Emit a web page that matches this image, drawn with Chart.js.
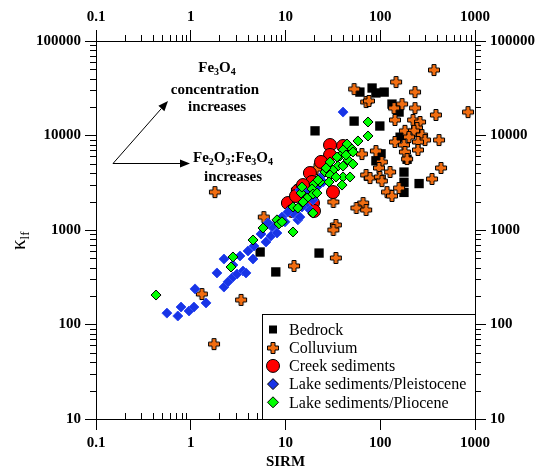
<!DOCTYPE html>
<html>
<head>
<meta charset="utf-8">
<title>SIRM vs klf</title>
<script src="https://cdn.jsdelivr.net/npm/chart.js@4.4.0/dist/chart.umd.min.js"></script>
<style>
  body { margin: 0; background: #fff; }
  canvas { display: block; }
</style>
</head>
<body>
<canvas id="myChart" width="539" height="471"></canvas>
<script>
// Series names, same order as the legend
const seriesLabels = ['Bedrock', 'Colluvium', 'Creek sediments', 'Lake sediments/Pleistocene', 'Lake sediments/Pliocene'];

// Bedrock samples (SIRM, klf)
const bedrockSirm = [61, 82, 90, 110, 133, 158, 53, 99, 20.5, 162, 102, 90, 192, 178, 178, 257, 178, 5.4, 7.9, 22.6];
const bedrockKlf = [28800, 31800, 28200, 28800, 21500, 17700, 14200, 12600, 11200, 9600, 6400, 5400, 5600, 4100, 3200, 3100, 2500, 585, 360, 570];

// Colluvium samples
const colluviumSirm = [369, 147, 53, 233, 71, 76, 170, 140, 233, 844, 387, 143, 222, 263, 244, 182, 227, 276, 201, 297,
  417, 143, 250, 178, 250, 182, 64, 90, 192, 104, 438, 97, 127, 71, 78, 99, 104, 352, 118, 158,
  133, 32, 66, 56, 71, 21, 13.2, 34, 32, 5.9, 34, 1.8, 12.3, 1.31, 3.4, 1.76];
const colluviumKlf = [49300, 36800, 31000, 28800, 22600, 23200, 21500, 19500, 19500, 17700, 16500, 14600, 14600, 13900, 12000, 11200, 11200, 10100, 9640, 8960,
  8960, 8540, 8540, 7930, 7030, 6690, 6370, 6850, 5640, 5250, 4530, 4530, 4110, 3820, 3550, 3640, 3300, 3470, 2520, 2780,
  2290, 1980, 1930, 1710, 1630, 4420, 2650, 1130, 1000, 1370, 506, 2520, 416, 210, 182, 62];

// Creek sediment samples
const creekSirm = [29.5, 40.5, 29.5, 23.7, 18.1, 19.0, 13.5, 10.6, 31.7, 16.9, 19.5, 20.0, 11.7, 12.9, 15.3];
const creekKlf = [7930, 7740, 6220, 5250, 4010, 3220, 2590, 1930, 2520, 2240, 1930, 1590, 1590, 2290, 2990];

// Lake sediments / Pleistocene
const pleistoSirm = [0.56, 0.73, 0.79, 0.96, 1.08, 1.45, 1.11, 2.24, 1.89, 2.79, 3.08, 3.56, 3.83, 2.24, 2.79, 3.31, 4.02, 4.54, 4.65, 6.22,
  7.03, 5.51, 8.13, 7.21, 6.53, 8.34, 9.18, 13.5, 40.5, 14.2, 16.9, 19.5, 18.1, 14.2, 12.0, 21.5, 24.9, 20.5, 16.1, 10.6,
  14.9, 2.47, 9.88, 23.1];
const pleistoKlf = [132, 123, 153, 139, 153, 169, 238, 249, 351, 318, 342, 368, 351, 493, 426, 531, 600, 493, 677, 746,
  865, 907, 929, 1080, 1190, 1220, 1370, 1280, 17700, 2650, 2460, 2080, 1630, 1370, 1510, 2850, 3220, 2350, 1840, 1550,
  1750, 282, 1220, 3550];

// Lake sediments / Pliocene
const plioSirm = [74.3, 74.3, 58.2, 44.6, 50.3, 40.5, 45.7, 37.6, 51.5, 29.5, 35.8, 31.7, 40.5, 48.0, 26.1, 23.1, 29.5, 28.8, 39.5, 20.0,
  19.0, 14.6, 16.9, 19.5, 12.0, 13.5, 8.13, 8.54, 12.0, 5.79, 4.54, 2.79, 2.66, 0.43, 19.5, 14.9, 21.5, 26.8, 34.1, 22.0,
  15.3, 9.18, 51.5, 40.5, 35.0, 43.5];
const plioKlf = [13900, 9880, 8750, 8130, 7200, 7030, 5510, 6070, 4990, 5250, 4750, 4310, 3640, 3640, 4110, 3220, 3820, 3220, 2990, 3070,
  2720, 2460, 2180, 2400, 1750, 1710, 1280, 1160, 953, 1050, 784, 518, 406, 205, 1510, 2850, 2460, 4530, 3640, 3380,
  1980, 1220, 6690, 4750, 5920, 6220];

// Axis ticks
const xTicks = [0.1, 1, 10, 100, 1000];
const yTicks = [10, 100, 1000, 10000, 100000];

const serif = "'Liberation Serif', 'Times New Roman', serif"; // Times-like font
const ctx = document.getElementById('myChart').getContext('2d');

// Turn two arrays into {x, y} points
function toPoints(xs, ys) {
  return xs.map((x, i) => ({ x: x, y: ys[i] }));
}

// Orange plus sign with black outline, Chart.js draws it as an image
function crossMarker(fill) {
  const c = document.createElement('canvas');
  c.width = 14; c.height = 14;
  const g = c.getContext('2d');
  const a = 5, b = 9, lo = 1.5, hi = 12.5; // arm edges and tips
  g.beginPath();
  g.moveTo(a, lo); g.lineTo(b, lo); g.lineTo(b, a); g.lineTo(hi, a); g.lineTo(hi, b); g.lineTo(b, b);
  g.lineTo(b, hi); g.lineTo(a, hi); g.lineTo(a, b); g.lineTo(lo, b); g.lineTo(lo, a); g.lineTo(a, a);
  g.closePath();
  g.fillStyle = fill;
  g.fill();
  g.strokeStyle = '#000';
  g.lineWidth = 1;
  g.stroke();
  return c;
}
const crossImg = crossMarker('#f26d10');

// Minor ticks: top/left/right point outward, bottom points inward
const minorTicks = {
  id: 'minorTicks',
  afterDraw(chart) {
    const c = chart.ctx, a = chart.chartArea;
    const sx = chart.scales.x, sy = chart.scales.y;
    c.save();
    c.strokeStyle = '#000';
    c.lineWidth = 1;
    c.beginPath();
    for (let k = -1; k < 3; k++) {
      for (let m = 2; m < 10; m++) {
        const px = Math.round(sx.getPixelForValue(m * Math.pow(10, k))) + 0.5;
        c.moveTo(px, a.bottom); c.lineTo(px, a.bottom - 6);
        c.moveTo(px, a.top); c.lineTo(px, a.top - 6);
      }
    }
    for (let k = 1; k < 5; k++) {
      for (let m = 2; m < 10; m++) {
        const py = Math.round(sy.getPixelForValue(m * Math.pow(10, k))) + 0.5;
        c.moveTo(a.left, py); c.lineTo(a.left - 6, py);
        c.moveTo(a.right, py); c.lineTo(a.right + 6, py);
      }
    }
    c.stroke();
    c.restore();
  }
};

// Draw text with subscript parts, centred on cx, baseline at y
function drawRich(c, parts, cx, y) {
  const big = 'bold 15px ' + serif, small = 'bold 10px ' + serif;
  let w = 0;
  parts.forEach(p => { c.font = p[1] ? small : big; w += c.measureText(p[0]).width; });
  let x = cx - w / 2;
  parts.forEach(p => {
    c.font = p[1] ? small : big;
    c.fillText(p[0], x, p[1] ? y + 3 : y);
    x += c.measureText(p[0]).width;
  });
}

// Arrow from (x0,y0) to tip (x1,y1)
function drawArrow(c, x0, y0, x1, y1) {
  const ang = Math.atan2(y1 - y0, x1 - x0);
  const len = 10, half = 4;
  const bx = x1 - len * Math.cos(ang), by = y1 - len * Math.sin(ang);
  c.beginPath();
  c.moveTo(x0, y0); c.lineTo(bx, by);
  c.stroke();
  c.beginPath();
  c.moveTo(x1, y1);
  c.lineTo(bx + half * Math.sin(ang), by - half * Math.cos(ang));
  c.lineTo(bx - half * Math.sin(ang), by + half * Math.cos(ang));
  c.closePath();
  c.fill();
}

// Notes, y-axis title and legend box
const extras = {
  id: 'extras',
  afterDraw(chart) {
    const c = chart.ctx, a = chart.chartArea;
    c.save();
    c.fillStyle = '#000';
    c.strokeStyle = '#000';
    c.lineWidth = 1;
    c.textAlign = 'left';
    c.textBaseline = 'alphabetic';

    // arrows and their notes
    drawArrow(c, 113, 163.5, 168, 101);
    drawArrow(c, 113, 163.5, 190, 163.5);
    drawRich(c, [['Fe', 0], ['3', 1], ['O', 0], ['4', 1]], 217, 72);
    drawRich(c, [['concentration', 0]], 215, 94);
    drawRich(c, [['increases', 0]], 217, 111);
    drawRich(c, [['Fe', 0], ['2', 1], ['O', 0], ['3', 1], [':Fe', 0], ['3', 1], ['O', 0], ['4', 1]], 233, 162);
    drawRich(c, [['increases', 0]], 233, 181);

    // y title: kappa with subscript lf, rotated
    c.translate(25, 241);
    c.rotate(-Math.PI / 2);
    c.font = '21px ' + serif;
    c.fillText('\u03ba', -9, 0);
    const kw = c.measureText('\u03ba').width;
    c.font = '13px ' + serif;
    c.fillText('lf', -9 + kw, 4);
    c.setTransform(1, 0, 0, 1, 0, 0);

    // legend box in the lower right corner of the plot
    const left = a.right - 213, top = a.bottom - 105;
    c.fillStyle = '#fff';
    c.fillRect(left, top, a.right - left, a.bottom - top);
    c.strokeRect(Math.round(left) + 0.5, Math.round(top) + 0.5, a.right - left, a.bottom - top);
    c.font = '16px ' + serif;
    c.textBaseline = 'middle';
    chart.data.datasets.forEach((ds, i) => {
      const y = top + 15.5 + i * 18.2;
      const x = left + 11;
      c.fillStyle = ds.backgroundColor;
      c.strokeStyle = '#000';
      c.lineWidth = 1;
      const r = ds.legendRadius;
      if (ds.pointStyle === 'rect') {
        c.fillRect(x - 4, y - 4, 8, 8);
      } else if (ds.pointStyle === 'circle') {
        c.beginPath(); c.arc(x, y, r, 0, Math.PI * 2); c.fill(); c.stroke();
      } else if (ds.pointStyle === 'rectRot') {
        c.beginPath(); c.moveTo(x, y - r); c.lineTo(x + r, y); c.lineTo(x, y + r); c.lineTo(x - r, y); c.closePath();
        c.fill(); c.stroke();
      } else {
        c.drawImage(ds.pointStyle, Math.round(x - 7), Math.round(y - 7));
      }
      c.fillStyle = '#000';
      c.fillText(ds.label, left + 27, y + 1);
    });
    c.restore();
  }
};

// Shared axis pieces
const tickFont = { family: serif, size: 15, weight: 'bold' };
function logAxis(position, min, max, ticks, size) {
  const horizontal = position === 'top' || position === 'bottom';
  return {
    type: 'logarithmic',
    position: position,
    min: min,
    max: max,
    afterBuildTicks: s => { s.ticks = ticks.map(v => ({ value: v })); },
    afterFit: s => { if (horizontal) s.height = size; else s.width = size; },
    ticks: { font: tickFont, color: '#000', padding: 4, maxRotation: 0, autoSkip: false, callback: v => String(v) },
    grid: { drawOnChartArea: false, drawTicks: true, tickLength: 11, color: '#000', lineWidth: 1 },
    border: { display: true, color: '#000', width: 1 }
  };
}

const xBottom = logAxis('bottom', 0.1, 1000, xTicks, 52);
xBottom.title = { display: true, text: 'SIRM', color: '#000', font: tickFont, padding: { top: 0, bottom: 0 } };
const xTop = logAxis('top', 0.1, 1000, xTicks, 41);
const yLeft = logAxis('left', 10, 100000, yTicks, 96);
const yRight = logAxis('right', 10, 100000, yTicks, 64);

// Build the scatter chart
const myChart = new Chart(ctx, {
  type: 'scatter',
  data: {
    datasets: [
      { label: seriesLabels[0], data: toPoints(bedrockSirm, bedrockKlf), pointStyle: 'rect', pointRadius: 6.6,
        backgroundColor: '#000', borderColor: '#000', borderWidth: 0, order: 5, legendRadius: 4 },
      { label: seriesLabels[1], data: toPoints(colluviumSirm, colluviumKlf), pointStyle: crossImg, pointRadius: 6,
        backgroundColor: '#f26d10', borderColor: '#000', borderWidth: 1, order: 4, legendRadius: 6 },
      { label: seriesLabels[2], data: toPoints(creekSirm, creekKlf), pointStyle: 'circle', pointRadius: 6.5,
        backgroundColor: '#ff0000', borderColor: '#000', borderWidth: 1, order: 3, legendRadius: 6.5 },
      { label: seriesLabels[3], data: toPoints(pleistoSirm, pleistoKlf), pointStyle: 'rectRot', pointRadius: 5,
        backgroundColor: '#1834e6', borderColor: '#3550f2', borderWidth: 1, order: 2, legendRadius: 5.5 },
      { label: seriesLabels[4], data: toPoints(plioSirm, plioKlf), pointStyle: 'rectRot', pointRadius: 5,
        backgroundColor: '#00ff00', borderColor: '#000', borderWidth: 1, order: 1, legendRadius: 5.5 }
    ]
  },
  options: {
    responsive: false,
    animation: false,
    layout: { padding: 0 },
    scales: { x: xBottom, x2: xTop, y: yLeft, y2: yRight },
    plugins: {
      legend: { display: false },
      tooltip: { enabled: false }
    }
  },
  plugins: [minorTicks, extras]
});
</script>
</body>
</html>
